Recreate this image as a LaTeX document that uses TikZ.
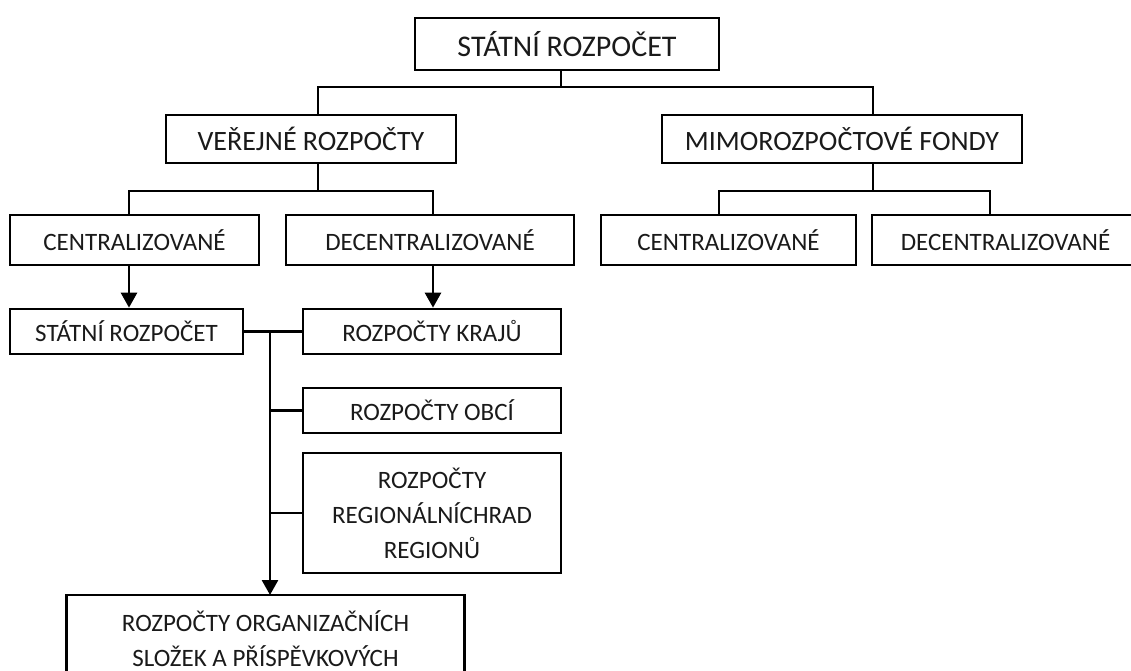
\documentclass[tikz,border=0pt]{standalone}
\usepackage{fontspec}
\setmainfont{Carlito}
\usetikzlibrary{arrows.meta}
\definecolor{txtc}{HTML}{1A1A1A}
\begin{document}
\begin{tikzpicture}[x=1pt,y=-1pt,line width=2.7pt,
  box/.style={draw,rectangle,inner sep=0pt,align=center,text=txtc},
  fa/.style={font=\fontsize{30}{36}\selectfont},
  fb/.style={font=\fontsize{28}{34}\selectfont},
  fc/.style={font=\fontsize{25}{35}\selectfont},
  arr/.style={-{Triangle[length=15pt,width=16pt]}}]
\useasboundingbox (0,0) rectangle (1131,671);
\fill[white] (0,0) rectangle (1131,671);
\clip (0,0) rectangle (1131,671);
% level 0
\node[box,fa,minimum width=304pt,minimum height=52pt] (top) at (567,44) {STÁTNÍ ROZPOČET};
% level 1
\node[box,fb,minimum width=290pt,minimum height=48pt] (ver) at (311,139) {VEŘEJNÉ ROZPOČTY};
\node[box,fb,minimum width=360pt,minimum height=48pt] (mimo) at (842,139) {MIMOROZPOČTOVÉ FONDY};
% level 2
\node[box,fc,minimum width=249pt,minimum height=50pt] (c1) at (134.5,240) {CENTRALIZOVANÉ};
\node[box,fc,minimum width=288pt,minimum height=50pt] (d1) at (430,240) {DECENTRALIZOVANÉ};
\node[box,fc,minimum width=255pt,minimum height=50pt] (c2) at (728.5,240) {CENTRALIZOVANÉ};
\node[box,fc,minimum width=267pt,minimum height=50pt] (d2) at (1005.5,240) {DECENTRALIZOVANÉ};
% level 3
\node[box,fc,minimum width=233pt,minimum height=45pt] (sr) at (126.5,331.5) {STÁTNÍ ROZPOČET};
\node[box,fc,minimum width=258pt,minimum height=45pt] (kr) at (432,331.5) {ROZPOČTY KRAJŮ};
\node[box,fc,minimum width=258pt,minimum height=45pt] (ob) at (432,410.5) {ROZPOČTY OBCÍ};
\node[box,fc,minimum width=258pt,minimum height=120pt] (rg) at (432,513) {ROZPOČTY\\REGIONÁLNÍCHRAD\\REGIONŮ};
% bottom box (extends beyond the picture)
\node[box,fc,draw=none,minimum width=395pt,anchor=north] (bt) at (265.5,609) {ROZPOČTY ORGANIZAČNÍCH\\SLOŽEK A PŘÍSPĚVKOVÝCH};
\coordinate (btop) at (0,595);
\coordinate (bbot) at (0,740);
\draw (bt.west |- btop) rectangle (bt.east |- bbot);
% connectors level 0 -> 1
\coordinate (xt) at (561,87);
\coordinate (xa) at (318,87);
\coordinate (xb) at (873,87);
\draw (xt |- top.south) -- (xt);
\draw (xa |- ver.north) -- (xa) -- (xb) -- (xb |- mimo.north);
% level 1 -> 2 (left)
\coordinate (v0) at (318,191);
\coordinate (v1) at (129,191);
\coordinate (v2) at (433,191);
\draw (v0 |- ver.south) -- (v0);
\draw (v1 |- c1.north) -- (v1) -- (v2) -- (v2 |- d1.north);
% level 1 -> 2 (right)
\coordinate (m0) at (873,191);
\coordinate (m1) at (719,191);
\coordinate (m2) at (990,191);
\draw (m0 |- mimo.south) -- (m0);
\draw (m1 |- c2.north) -- (m1) -- (m2) -- (m2 |- d2.north);
% arrows level 2 -> 3
\draw[arr] (v1 |- c1.south) -- (v1 |- sr.north);
\draw[arr] (v2 |- d1.south) -- (v2 |- kr.north);
% bus
\coordinate (bx) at (270,334);
\draw (sr.east) -- (kr.west);
\draw (bx |- ob.west) -- (ob.west);
\draw (bx |- rg.west) -- (rg.west);
\draw[arr] (bx |- sr.east) -- (bx |- btop);
\end{tikzpicture}
\end{document}
